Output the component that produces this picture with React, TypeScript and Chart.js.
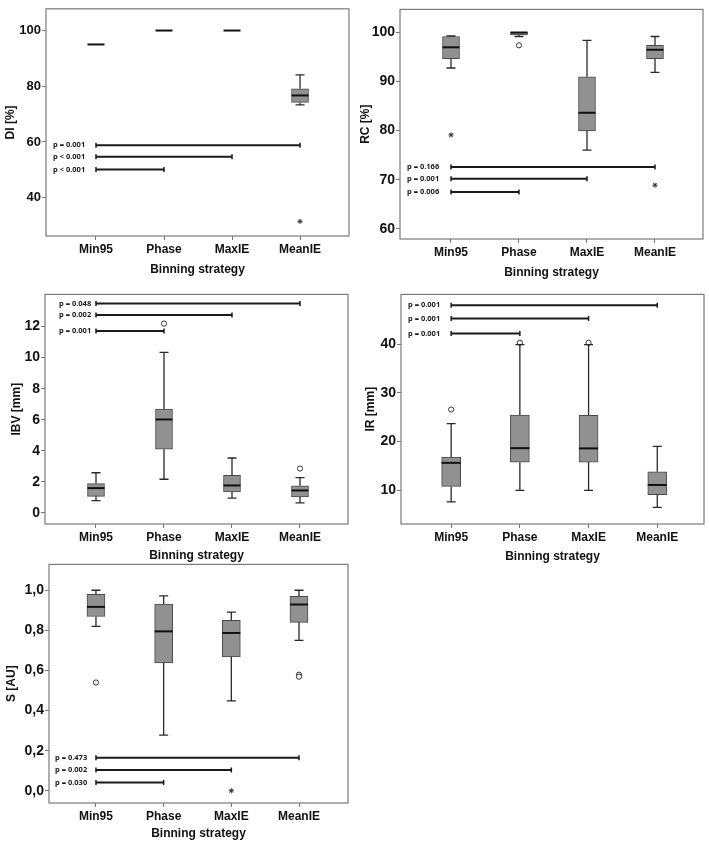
import React, { useEffect, useRef } from 'react';
import { Chart, registerables } from 'chart.js';

Chart.register(...registerables);

// ---------------- DATA ----------------
const CATEGORIES = ['Min95', 'Phase', 'MaxIE', 'MeanIE'];
const X_TITLE = 'Binning strategy';
const BRACKET_TARGETS = [1, 2, 3]; // Min95 vs Phase, MaxIE, MeanIE

// DI [%]
const DI_MIN = [95.0, 100, 100, 73.3];
const DI_Q1 = [95.0, 100, 100, 74.2];
const DI_MED = [95.0, 100, 100, 76.7];
const DI_Q3 = [95.0, 100, 100, 79.1];
const DI_MAX = [95.0, 100, 100, 84.1];
const DI_CIRCLES: number[][] = [];
const DI_STARS: number[][] = [[3, 31.5]];
const DI_P_LABELS = ['p < 0.001', 'p < 0.001', 'p = 0.001'];
const DI_P_LEVELS = [50.1, 54.7, 58.8];
const DI_TICKS = [40, 60, 80, 100];

// RC [%]
const RC_MIN = [92.7, 99.1, 76.0, 91.8];
const RC_Q1 = [94.6, 99.4, 79.9, 94.6];
const RC_MED = [96.9, 99.9, 83.6, 96.4];
const RC_Q3 = [99.1, 100.0, 90.9, 97.3];
const RC_MAX = [99.2, 100.0, 98.3, 99.1];
const RC_CIRCLES: number[][] = [[1, 97.3]];
const RC_STARS: number[][] = [[0, 79.1], [3, 68.9]];
const RC_P_LABELS = ['p = 0.006', 'p = 0.001', 'p = 0.166'];
const RC_P_LEVELS = [67.5, 70.2, 72.6];
const RC_TICKS = [60, 70, 80, 90, 100];

// IBV [mm]
const IBV_MIN = [0.8, 2.17, 0.95, 0.65];
const IBV_Q1 = [1.07, 4.1, 1.35, 1.03];
const IBV_MED = [1.6, 6.02, 1.77, 1.45];
const IBV_Q3 = [1.89, 6.69, 2.42, 1.75];
const IBV_MAX = [2.59, 10.34, 3.54, 2.27];
const IBV_CIRCLES: number[][] = [[1, 12.19], [3, 2.86]];
const IBV_STARS: number[][] = [];
const IBV_P_LABELS = ['p = 0.001', 'p = 0.002', 'p = 0.048'];
const IBV_P_LEVELS = [11.71, 12.74, 13.49];
const IBV_TICKS = [0, 2, 4, 6, 8, 10, 12];

// IR [mm]
const IR_MIN = [7.65, 10.0, 10.0, 6.5];
const IR_Q1 = [10.8, 15.77, 15.8, 9.1];
const IR_MED = [15.64, 18.65, 18.6, 11.1];
const IR_Q3 = [16.8, 25.43, 25.4, 13.8];
const IR_MAX = [23.7, 39.9, 39.9, 19.0];
const IR_CIRCLES: number[][] = [[0, 26.58], [1, 40.27], [2, 40.27]];
const IR_STARS: number[][] = [];
const IR_P_LABELS = ['p = 0.001', 'p = 0.001', 'p = 0.001'];
const IR_P_LEVELS = [42.2, 45.23, 47.99];
const IR_TICKS = [10, 20, 30, 40];

// S [AU]
const S_MIN = [0.82, 0.278, 0.448, 0.75];
const S_Q1 = [0.869, 0.638, 0.668, 0.84];
const S_MED = [0.917, 0.795, 0.787, 0.929];
const S_Q3 = [0.98, 0.931, 0.85, 0.97];
const S_MAX = [1.0, 0.972, 0.891, 1.0];
const S_CIRCLES: number[][] = [[0, 0.54], [3, 0.579], [3, 0.569]];
const S_STARS: number[][] = [[2, 0.0]];
const S_P_LABELS = ['p = 0.030', 'p = 0.002', 'p = 0.473'];
const S_P_LEVELS = [0.041, 0.104, 0.165];
const S_TICKS = [0, 0.2, 0.4, 0.6, 0.8, 1.0];

// ---------------- PANELS ----------------
type Panel = {
  title: string;
  min: number[]; q1: number[]; med: number[]; q3: number[]; max: number[];
  circles: number[][]; stars: number[][];
  pLabels: string[]; pLevels: number[];
  ticks: number[]; fmt: (v: number) => string;
  yMin: number; yMax: number; xMin: number; xMax: number;
  left: number; top: number; w: number; h: number;
  yAxisW: number; xAxisH: number; padTop: number; padRight: number;
  yTitlePad: number; xTitlePad: number; tickSize: number; labelOffset: number; boxW: number;
};

const intFmt = (v: number) => String(v);
const commaFmt = (v: number) => v.toFixed(1).replace('.', ',');

const PANELS: Panel[] = [
  {
    title: 'DI [%]', min: DI_MIN, q1: DI_Q1, med: DI_MED, q3: DI_Q3, max: DI_MAX,
    circles: DI_CIRCLES, stars: DI_STARS, pLabels: DI_P_LABELS, pLevels: DI_P_LEVELS,
    ticks: DI_TICKS, fmt: intFmt, yMin: 26.25, yMax: 107.8, xMin: -0.735, xMax: 3.72,
    left: 0, top: 0, w: 355, h: 282, yAxisW: 46, xAxisH: 46, padTop: 3, padRight: 6,
    yTitlePad: 3, xTitlePad: 5, tickSize: 13, labelOffset: 7, boxW: 17,
  },
  {
    title: 'RC [%]', min: RC_MIN, q1: RC_Q1, med: RC_MED, q3: RC_Q3, max: RC_MAX,
    circles: RC_CIRCLES, stars: RC_STARS, pLabels: RC_P_LABELS, pLevels: RC_P_LEVELS,
    ticks: RC_TICKS, fmt: intFmt, yMin: 57.96, yMax: 104.6, xMin: -0.75, xMax: 3.706,
    left: 355, top: 0, w: 354, h: 285, yAxisW: 45, xAxisH: 46, padTop: 3, padRight: 6,
    yTitlePad: 3, xTitlePad: 5, tickSize: 14, labelOffset: 7, boxW: 17,
  },
  {
    title: 'IBV [mm]', min: IBV_MIN, q1: IBV_Q1, med: IBV_MED, q3: IBV_Q3, max: IBV_MAX,
    circles: IBV_CIRCLES, stars: IBV_STARS, pLabels: IBV_P_LABELS, pLevels: IBV_P_LEVELS,
    ticks: IBV_TICKS, fmt: intFmt, yMin: -0.71, yMax: 14.07, xMin: -0.75, xMax: 3.706,
    left: 0, top: 285, w: 355, h: 283, yAxisW: 45, xAxisH: 44, padTop: 5, padRight: 7,
    yTitlePad: 9, xTitlePad: 5, tickSize: 14, labelOffset: 14, boxW: 17,
  },
  {
    title: 'IR [mm]', min: IR_MIN, q1: IR_Q1, med: IR_MED, q3: IR_Q3, max: IR_MAX,
    circles: IR_CIRCLES, stars: IR_STARS, pLabels: IR_P_LABELS, pLevels: IR_P_LEVELS,
    ticks: IR_TICKS, fmt: intFmt, yMin: 3.09, yMax: 50.2, xMin: -0.73, xMax: 3.68,
    left: 355, top: 285, w: 354, h: 284, yAxisW: 46, xAxisH: 45, padTop: 5, padRight: 5,
    yTitlePad: 8, xTitlePad: 5, tickSize: 14, labelOffset: 7, boxW: 19,
  },
  {
    title: 'S [AU]', min: S_MIN, q1: S_Q1, med: S_MED, q3: S_Q3, max: S_MAX,
    circles: S_CIRCLES, stars: S_STARS, pLabels: S_P_LABELS, pLevels: S_P_LEVELS,
    ticks: S_TICKS, fmt: commaFmt, yMin: -0.061, yMax: 1.129, xMin: -0.694, xMax: 3.724,
    left: 0, top: 555, w: 355, h: 290, yAxisW: 49, xAxisH: 42, padTop: 8, padRight: 7,
    yTitlePad: 4, xTitlePad: 4, tickSize: 14, labelOffset: 6, boxW: 18,
  },
];

const FONT = '"Liberation Sans", Arial, sans-serif';

function makePlugin(p: Panel) {
  return {
    id: 'boxExtras',
    afterDatasetsDraw(chart: any) {
      const { ctx, chartArea } = chart;
      const xs = chart.scales.x;
      const ys = chart.scales.y;
      ctx.save();
      // whiskers and medians
      p.med.forEach((m, i) => {
        const x = xs.getPixelForValue(i);
        const half = p.boxW / 2;
        const cap = 4.5;
        ctx.strokeStyle = '#2a2a2a';
        ctx.lineWidth = 1.3;
        if (p.max[i] > p.q3[i] + 1e-9) {
          const a = ys.getPixelForValue(p.q3[i]);
          const b = ys.getPixelForValue(p.max[i]);
          ctx.beginPath();
          ctx.moveTo(x, a); ctx.lineTo(x, b);
          ctx.moveTo(x - cap, b); ctx.lineTo(x + cap, b);
          ctx.stroke();
        }
        if (p.min[i] < p.q1[i] - 1e-9) {
          const a = ys.getPixelForValue(p.q1[i]);
          const b = ys.getPixelForValue(p.min[i]);
          ctx.beginPath();
          ctx.moveTo(x, a); ctx.lineTo(x, b);
          ctx.moveTo(x - cap, b); ctx.lineTo(x + cap, b);
          ctx.stroke();
        }
        const ym = ys.getPixelForValue(m);
        ctx.strokeStyle = '#111';
        ctx.lineWidth = 2;
        ctx.beginPath();
        ctx.moveTo(x - half, ym); ctx.lineTo(x + half, ym);
        ctx.stroke();
      });
      // significance brackets
      const x0 = xs.getPixelForValue(0);
      p.pLevels.forEach((lvl, k) => {
        const y = ys.getPixelForValue(lvl);
        const x1 = xs.getPixelForValue(BRACKET_TARGETS[k]);
        ctx.strokeStyle = '#1a1a1a';
        ctx.lineWidth = 2;
        ctx.beginPath();
        ctx.moveTo(x0, y); ctx.lineTo(x1, y);
        ctx.stroke();
        ctx.lineWidth = 1.5;
        ctx.beginPath();
        ctx.moveTo(x0, y - 2.5); ctx.lineTo(x0, y + 2.5);
        ctx.moveTo(x1, y - 2.5); ctx.lineTo(x1, y + 2.5);
        ctx.stroke();
        ctx.fillStyle = '#1a1a1a';
        ctx.font = 'bold 7.5px "Noto Sans", "Open Sans", sans-serif';
        ctx.textAlign = 'left';
        ctx.textBaseline = 'middle';
        ctx.fillText(p.pLabels[k], chartArea.left + p.labelOffset, y);
      });
      // frame
      ctx.strokeStyle = '#7a7a7a';
      ctx.lineWidth = 1.2;
      ctx.strokeRect(chartArea.left, chartArea.top, chartArea.right - chartArea.left, chartArea.bottom - chartArea.top);
      ctx.restore();
    },
  };
}

function BoxPanel({ p }: { p: Panel }) {
  const ref = useRef<HTMLCanvasElement | null>(null);
  useEffect(() => {
    if (!ref.current) return;
    const chart = new Chart(ref.current, {
      type: 'bar',
      data: {
        datasets: [
          {
            type: 'bar',
            data: CATEGORIES.map((_, i) => ({ x: i, y: [p.q1[i], p.q3[i]] })) as any,
            backgroundColor: '#919191',
            borderColor: '#4a4a4a',
            borderWidth: 1,
            borderSkipped: false,
            barThickness: p.boxW,
          } as any,
          {
            type: 'scatter',
            data: p.circles.map(([x, y]) => ({ x, y })),
            pointStyle: 'circle',
            radius: 2.6,
            backgroundColor: '#ffffff',
            borderColor: '#333',
            borderWidth: 1,
          } as any,
          {
            type: 'scatter',
            data: p.stars.map(([x, y]) => ({ x, y })),
            pointStyle: 'star',
            radius: 2.6,
            backgroundColor: '#333',
            borderColor: '#333',
            borderWidth: 1,
          } as any,
        ],
      },
      options: {
        animation: false,
        responsive: false,
        events: [],
        layout: { padding: { left: 0, top: p.padTop, right: p.padRight, bottom: 0 } },
        plugins: { legend: { display: false }, tooltip: { enabled: false } },
        scales: {
          x: {
            type: 'linear',
            offset: false,
            min: p.xMin,
            max: p.xMax,
            afterBuildTicks: (s: any) => { s.ticks = CATEGORIES.map((_, i) => ({ value: i })); },
            afterFit: (s: any) => { s.height = p.xAxisH; },
            ticks: {
              callback: (v: any) => CATEGORIES[v] ?? '',
              font: { family: FONT, size: 12, weight: 'bold' },
              color: '#111',
              padding: 2,
              maxRotation: 0,
              autoSkip: false,
            },
            grid: { display: true, offset: false, drawOnChartArea: false, drawTicks: true, tickLength: 4, color: '#777' },
            border: { display: false },
            title: {
              display: true, text: X_TITLE, color: '#111',
              font: { family: FONT, size: 12, weight: 'bold' },
              padding: { top: 0, bottom: p.xTitlePad },
            },
          },
          y: {
            type: 'linear',
            min: p.yMin,
            max: p.yMax,
            afterBuildTicks: (s: any) => { s.ticks = p.ticks.map((v) => ({ value: v })); },
            afterFit: (s: any) => { s.width = p.yAxisW; },
            ticks: {
              callback: (v: any) => p.fmt(Number(v)),
              font: { family: FONT, size: p.tickSize, weight: 'bold' },
              color: '#111',
              padding: 1,
            },
            grid: { display: true, drawOnChartArea: false, drawTicks: true, tickLength: 4, color: '#777' },
            border: { display: false },
            title: {
              display: true, text: p.title, color: '#111',
              font: { family: FONT, size: 12, weight: 'bold' },
              padding: { top: p.yTitlePad, bottom: 0 },
            },
          },
        },
      } as any,
      plugins: [makePlugin(p) as any],
    });
    return () => chart.destroy();
  }, []);
  return (
    <canvas
      ref={ref}
      width={p.w}
      height={p.h}
      style={{ position: 'absolute', left: p.left, top: p.top, width: p.w, height: p.h }}
    />
  );
}

export default function App() {
  return (
    <div style={{ position: 'absolute', left: 0, top: 0, width: 709, height: 845, background: '#fff', overflow: 'hidden' }}>
      {PANELS.map((p, i) => (
        <BoxPanel key={i} p={p} />
      ))}
    </div>
  );
}
